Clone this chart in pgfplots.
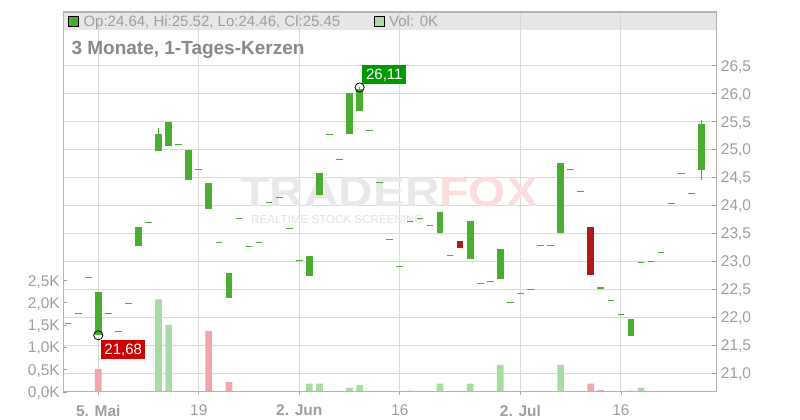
\documentclass[border=0pt]{standalone}
\usepackage{fontspec}
\setmainfont{Liberation Sans}
\usepackage{pgfplots}
\pgfplotsset{compat=1.18}
\usepackage{pgfplotstable}

\definecolor{cg}{RGB}{75,172,50}
\definecolor{cr}{RGB}{178,24,24}
\definecolor{vg}{RGB}{169,220,163}
\definecolor{vr}{RGB}{240,166,173}
\definecolor{gridc}{RGB}{217,217,217}
\definecolor{axc}{RGB}{180,180,180}
\definecolor{txt}{RGB}{158,158,158}
\definecolor{ttl}{RGB}{136,136,136}
\definecolor{hdr}{RGB}{230,230,230}
\definecolor{lblg}{RGB}{0,153,0}
\definecolor{lblr}{RGB}{204,0,0}
\definecolor{wmg}{RGB}{233,233,233}
\definecolor{wmg2}{RGB}{226,226,226}
\definecolor{wmr}{RGB}{253,220,224}

% green candles: index, open, high, low, close
\pgfplotstableread{
i o h l c
0 21.68 22.45 21.68 22.45
4 23.28 23.61 23.28 23.61
6 24.98 25.39 24.98 25.27
7 25.06 25.49 25.06 25.49
9 24.46 25.00 24.46 25.00
11 23.94 24.40 23.94 24.40
13 22.35 22.79 22.35 22.79
21 22.74 23.09 22.74 23.09
22 24.19 24.58 24.19 24.58
25 25.28 26.02 25.28 26.02
26 25.69 26.11 25.69 26.09
34 23.51 23.88 23.51 23.88
37 23.05 23.72 23.05 23.72
40 22.69 23.22 22.69 23.22
46 23.51 24.76 23.51 24.76
50 22.51 22.54 22.51 22.54
53 21.67 21.97 21.67 21.97
60 24.64 25.52 24.46 25.45
}\greencandles

% red candles
\pgfplotstableread{
i o h l c
36 23.36 23.36 23.24 23.24
49 23.61 23.61 22.76 22.76
}\redcandles

% flat candles (open = close)
\pgfplotstableread{
i p
-3 21.89
-2 22.07
-1 22.71
1 22.07
2 21.75
3 22.25
5 23.70
8 25.09
10 24.64
12 23.34
14 23.77
15 23.27
16 23.34
17 24.05
18 24.14
19 23.59
20 23.02
23 25.27
24 24.82
27 25.34
28 24.41
29 23.39
30 22.91
31 23.71
32 23.77
33 23.64
35 23.11
38 22.61
39 22.64
41 22.27
42 22.43
43 22.50
44 23.29
45 23.29
47 24.64
48 24.25
51 22.30
52 22.05
54 22.98
55 23.00
56 23.16
57 24.04
58 24.57
59 24.21
}\flatcandles

% volume (thousands)
\pgfplotstableread{
i v
4 0.02
6 2.08
7 1.50
21 0.19
22 0.19
25 0.10
26 0.16
31 0.03
34 0.19
37 0.19
40 0.61
46 0.61
54 0.10
}\volgreen
\pgfplotstableread{
i v
0 0.52
9 0.02
11 1.37
13 0.23
49 0.19
50 0.05
53 0.03
}\volred

\pgfplotsset{
  common/.style={
    width=653pt, height=380pt, scale only axis,
    at={(63pt,28pt)}, anchor=south west,
    xmin=-3.51, xmax=61.46,
    xtick={0,10,20,30,42,52},
    axis line style={draw=none},
    ticklabel style={font=\fontsize{15.5}{18}\selectfont, text=txt},
  },
  pricey/.style={ymin=20.6657, ymax=27.46, ytick={21,21.5,...,26.5}},
}

\begin{document}
\begin{tikzpicture}
\useasboundingbox (0,0) rectangle (800pt,420pt);
\fill[hdr] (63pt,390pt) rectangle (716pt,408pt);

% grid axis
\begin{axis}[common, pricey,
  grid=major, grid style={gridc, line width=0.9pt},
  xticklabels={}, yticklabels={}, ticklabel style={opacity=0},
  tick align=outside, major tick length=2.5pt, xtick pos=bottom,
  xtick style={draw=axc, line width=0.8pt}, ytick style={draw=none}]
\end{axis}

% watermark
\node[anchor=base west, inner sep=0pt, xscale=1.14, font=\fontsize{42}{42}\selectfont\bfseries] at (240pt,213.3pt) {\textcolor{wmg}{TRADER}\textcolor{wmr}{FOX}};
\node[anchor=base west, inner sep=0pt, font=\fontsize{11.6}{12}\selectfont, text=wmg2] at (251pt,196.7pt) {REALTIME STOCK SCREENING};

% volume axis
\begin{axis}[common, ymin=0, ymax=8.528,
  ytick={0,0.5,1,1.5,2,2.5},
  yticklabels={{0,0K},{0,5K},{1,0K},{1,5K},{2,0K},{2,5K}},
  ytick pos=left, yticklabel pos=left,
  tick align=inside, major tick length=4.3pt,
  ytick style={draw=txt, line width=0.8pt}, xtick style={draw=none},
  yticklabel style={anchor=east, inner sep=0pt, xshift=-3pt, text depth=0pt},
  xticklabels={\textbf{5. Mai},19,\textbf{2. Jun},16,\textbf{2. Jul},16},
  xtick pos=bottom,
  xticklabel style={anchor=north, inner sep=0pt, yshift=-8.3pt, text depth=0pt},
  ybar, bar width=6.7pt, bar shift=0pt]
\addplot[fill=vg, draw=none] table[x=i, y=v] {\volgreen};
\addplot[fill=vr, draw=none] table[x=i, y=v] {\volred};
\end{axis}

% price axis
\begin{axis}[common, pricey,
  axis line style={draw=axc, line width=1pt},
  yticklabels={{21,0},{21,5},{22,0},{22,5},{23,0},{23,5},{24,0},{24,5},{25,0},{25,5},{26,0},{26,5}},
  ytick pos=right, yticklabel pos=right,
  tick align=inside, major tick length=4.3pt,
  ytick style={draw=txt, line width=0.8pt},
  xtick=\empty,
  yticklabel style={anchor=west, inner sep=0pt, xshift=4.7pt, text depth=0pt}]
% wicks
\addplot[draw=none, error bars/.cd, y dir=plus, y explicit, error mark=none,
  error bar style={draw=cg, line width=1.1pt}]
  table[x=i, y=l, y error expr=\thisrow{h}-\thisrow{l}] {\greencandles};
% bodies
\addplot[draw=none, error bars/.cd, y dir=plus, y explicit, error mark=none,
  error bar style={draw=cg, line width=6.7pt}]
  table[x=i, y expr={min(\thisrow{o},\thisrow{c})}, y error expr={abs(\thisrow{c}-\thisrow{o})}] {\greencandles};
\addplot[draw=none, error bars/.cd, y dir=plus, y explicit, error mark=none,
  error bar style={draw=cr, line width=6.7pt}]
  table[x=i, y expr={min(\thisrow{o},\thisrow{c})}, y error expr={abs(\thisrow{c}-\thisrow{o})}] {\redcandles};
% flat candles
\addplot[only marks, mark=-, mark size=3.35pt, mark options={draw=cg, line width=0.9pt}]
  table[x=i, y=p] {\flatcandles};
% high / low markers
\addplot[only marks, mark=o, mark size=4.6pt, mark options={draw=black, line width=0.8pt, fill=none}]
  coordinates {(26,26.11) (0,21.68)};
\node[fill=lblg, text=white, anchor=south west, inner sep=0pt, minimum width=44pt, minimum height=19pt,
  text height=10.7pt, text depth=0pt, font=\fontsize{15}{18}\selectfont]
  at ([shift={(2.5pt,3.7pt)}]axis cs:26,26.11) {26,11};
\node[fill=lblr, text=white, anchor=north west, inner sep=0pt, minimum width=44pt, minimum height=19pt,
  text height=10.7pt, text depth=0pt, font=\fontsize{15}{18}\selectfont]
  at ([shift={(2.7pt,-4.3pt)}]axis cs:0,21.68) {21,68};
\end{axis}

% header
\draw[axc, line width=0.8pt] (63pt,408pt) -- (716pt,408pt);
\filldraw[fill=cg, draw=black, line width=0.8pt] (68.3pt,393.3pt) rectangle (78.5pt,403.5pt);
\node[anchor=base west, inner sep=0pt, text=txt, font=\fontsize{15}{18}\selectfont] at (83.3pt,393pt) {Op:24.64, Hi:25.52, Lo:24.46, Cl:25.45};
\filldraw[fill=vg, draw=black, line width=0.8pt] (374.5pt,393.3pt) rectangle (384.7pt,403.5pt);
\node[anchor=base west, inner sep=0pt, text=txt, font=\fontsize{15}{18}\selectfont] at (389pt,393pt) {Vol: 0K};
\node[anchor=base west, inner sep=0pt, text=ttl, font=\fontsize{19}{22}\selectfont\bfseries] at (71.3pt,365.7pt) {3 Monate, 1-Tages-Kerzen};
\end{tikzpicture}
\end{document}
